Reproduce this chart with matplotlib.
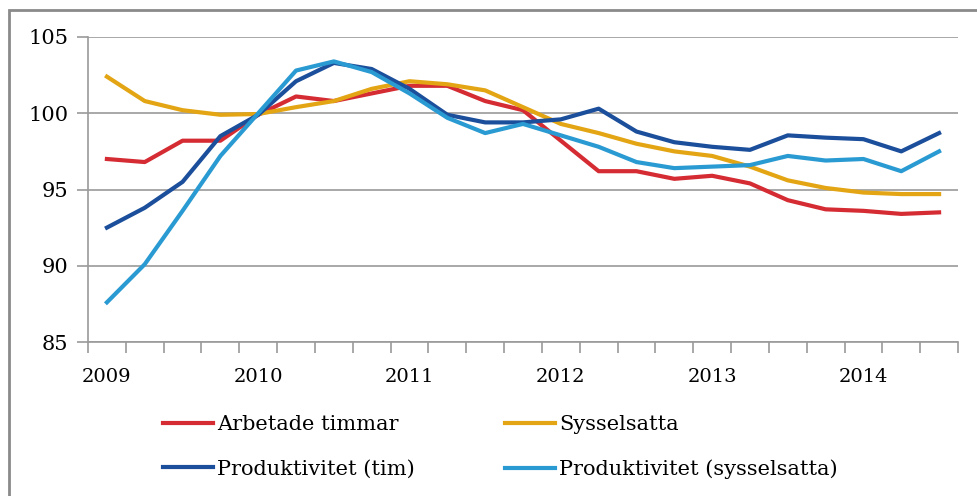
import numpy as np
import matplotlib
matplotlib.use("Agg")
import matplotlib.pyplot as plt
from matplotlib.patches import Rectangle

# quarterly index, 2009Q1 - 2014Q3
years = ["2009", "2010", "2011", "2012", "2013", "2014"]

arbetade_timmar = [97.0, 96.8, 98.2, 98.2, 99.9, 101.1, 100.8, 101.3, 101.8, 101.8,
                   100.8, 100.2, 98.2, 96.2, 96.2, 95.7, 95.9, 95.4, 94.3, 93.7,
                   93.6, 93.4, 93.5]
sysselsatta = [102.4, 100.8, 100.2, 99.9, 99.95, 100.4, 100.8, 101.6, 102.1, 101.9,
               101.5, 100.4, 99.3, 98.7, 98.0, 97.5, 97.2, 96.5, 95.6, 95.1,
               94.8, 94.7, 94.7]
prod_tim = [92.5, 93.8, 95.5, 98.5, 99.9, 102.1, 103.3, 102.9, 101.6, 99.9,
            99.4, 99.4, 99.6, 100.3, 98.8, 98.1, 97.8, 97.6, 98.55, 98.4,
            98.3, 97.5, 98.7]
prod_syss = [87.6, 90.1, 93.6, 97.2, 100.0, 102.8, 103.4, 102.7, 101.3, 99.7,
             98.7, 99.3, 98.55, 97.8, 96.8, 96.4, 96.5, 96.6, 97.2, 96.9,
             97.0, 96.2, 97.5]

labels = ["Arbetade timmar", "Sysselsatta", "Produktivitet (tim)", "Produktivitet (sysselsatta)"]
colors = ["#d52b33", "#e3a514", "#1b4e9b", "#2a9ad2"]

plt.rcParams["font.family"] = ["DejaVu Serif"]
grey = "#9a9a9a"

fig = plt.figure(figsize=(9.78, 4.96), dpi=100)
W, H = 978, 496
ax = fig.add_axes([88 / W, 1 - 342 / H, (958 - 88) / W, (342 - 37) / H])

x = np.arange(len(arbetade_timmar))
series = [arbetade_timmar, sysselsatta, prod_tim, prod_syss]
lines = []
for vals, c, lab in zip(series, colors, labels):
    ln, = ax.plot(x, vals, color=c, lw=3.0, label=lab, solid_joinstyle="round")
    lines.append(ln)

ax.set_xlim(-0.5, len(x) - 0.5)
ax.set_ylim(85, 105)
ax.set_yticks(np.arange(85, 106, 5))
ax.yaxis.grid(True, color=grey, lw=1.2)
ax.set_axisbelow(True)

ax.set_xticks(np.arange(0, len(x), 4))
ax.set_xticklabels(years)
ax.set_xticks(np.arange(-0.5, len(x), 1), minor=True)
ax.tick_params(axis="x", which="major", length=0, pad=19, labelsize=14)
ax.tick_params(axis="x", which="minor", length=8, color=grey, width=1.2)
ax.tick_params(axis="y", length=8, color=grey, width=1.2, pad=6, labelsize=15)

for s in ["top", "right"]:
    ax.spines[s].set_visible(False)
for s in ["left", "bottom"]:
    ax.spines[s].set_color(grey)
    ax.spines[s].set_linewidth(1.2)

# outer frame
fig.patches.append(Rectangle((9 / W, -0.2), 1.2, 1.2 - 10 / H, transform=fig.transFigure,
                             fill=False, edgecolor="#8a8a8a", lw=2))

order = [lines[0], lines[2], lines[1], lines[3]]
fig.legend(order, [l.get_label() for l in order], ncol=2, frameon=False,
           loc="upper left", bbox_to_anchor=(155 / W, 1 - 407 / H),
           fontsize=15, handlelength=2.4, handletextpad=0.2,
           columnspacing=4.3, labelspacing=1.2, borderaxespad=0)

fig.savefig("out.png", dpi=100)
